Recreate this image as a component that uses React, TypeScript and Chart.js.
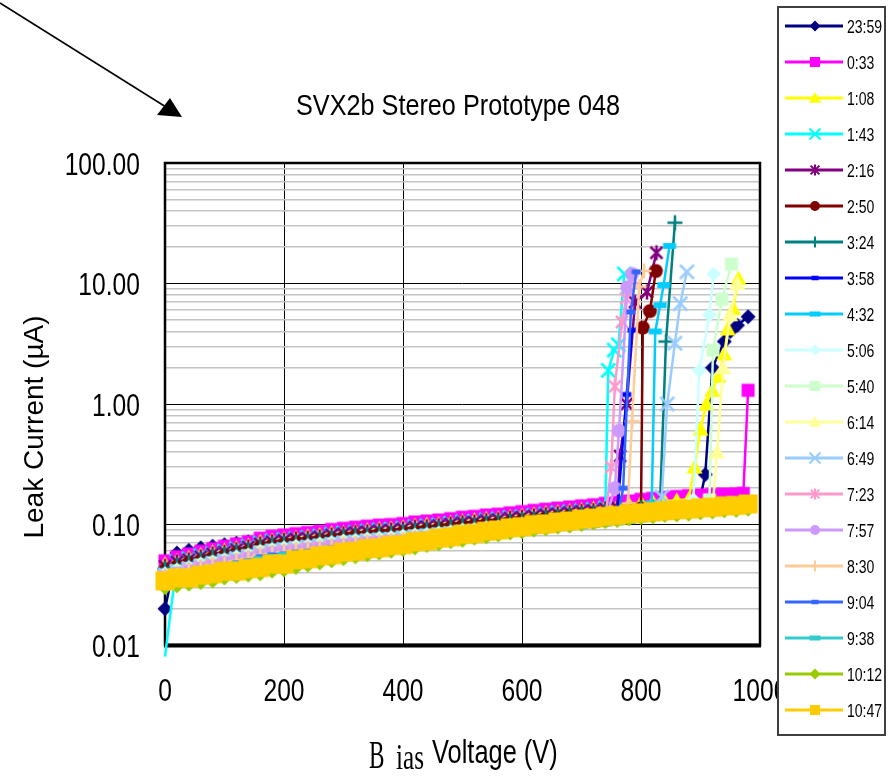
import React, { useEffect, useRef } from 'react';
import { Chart, registerables } from 'chart.js';

Chart.register(...registerables);

// ---------- data ----------
const gridVolts = [0, 20, 40, 60, 80, 100, 120, 140, 160, 180, 200, 220, 240, 260, 280, 300, 320, 340, 360, 380, 400, 420, 440, 460, 480, 500, 520, 540, 560, 580, 600, 620, 640, 660, 680, 700, 720, 740, 760, 780, 800, 820, 840, 860, 880, 900, 920, 940, 960, 980];

const seriesNames = ['23:59', '0:33', '1:08', '1:43', '2:16', '2:50', '3:24', '3:58', '4:32', '5:06', '5:40', '6:14', '6:49', '7:23', '7:57', '8:30', '9:04', '9:38', '10:12', '10:47'];

// currents (uA) on the 20 V grid, up to the breakdown
const cur2359 = [0.020, 0.058, 0.061, 0.064, 0.066, 0.068, 0.070, 0.072, 0.074, 0.076, 0.078, 0.080, 0.082, 0.085, 0.087, 0.089, 0.091, 0.093, 0.095, 0.097, 0.099, 0.101, 0.103, 0.105, 0.108, 0.110, 0.113, 0.115, 0.118, 0.121, 0.124, 0.127, 0.130, 0.133, 0.136, 0.139, 0.142, 0.145, 0.148, 0.152, 0.156, 0.159, 0.162, 0.165, 0.167, 0.170];
const cur0033 = [0.050, 0.054, 0.057, 0.060, 0.063, 0.066, 0.069, 0.072, 0.077, 0.080, 0.082, 0.084, 0.086, 0.088, 0.091, 0.093, 0.095, 0.097, 0.099, 0.100, 0.102, 0.105, 0.107, 0.109, 0.112, 0.115, 0.117, 0.120, 0.122, 0.125, 0.128, 0.131, 0.134, 0.137, 0.140, 0.143, 0.146, 0.150, 0.153, 0.157, 0.162, 0.165, 0.168, 0.171, 0.174, 0.176, 0.178, 0.179, 0.180];
const cur0108 = [0.047, 0.050, 0.053, 0.056, 0.059, 0.061, 0.064, 0.067, 0.072, 0.074, 0.076, 0.078, 0.080, 0.082, 0.085, 0.086, 0.088, 0.090, 0.092, 0.093, 0.095, 0.098, 0.100, 0.101, 0.104, 0.107, 0.109, 0.112, 0.113, 0.116, 0.119, 0.122, 0.125, 0.127, 0.130, 0.133, 0.136, 0.140, 0.142, 0.146, 0.151, 0.153, 0.156, 0.159, 0.162];
const cur0143 = [0.008, 0.049, 0.052, 0.055, 0.057, 0.060, 0.063, 0.066, 0.070, 0.073, 0.075, 0.076, 0.078, 0.080, 0.083, 0.085, 0.086, 0.088, 0.090, 0.091, 0.093, 0.096, 0.097, 0.099, 0.102, 0.105, 0.106, 0.109, 0.111, 0.114, 0.116, 0.119, 0.122, 0.125, 0.127, 0.130, 0.133, 0.137];
const cur0216 = [0.045, 0.049, 0.051, 0.054, 0.057, 0.059, 0.062, 0.065, 0.069, 0.072, 0.074, 0.076, 0.077, 0.079, 0.082, 0.084, 0.086, 0.087, 0.089, 0.090, 0.092, 0.095, 0.096, 0.098, 0.101, 0.104, 0.105, 0.108, 0.110, 0.113, 0.115, 0.118, 0.121, 0.123, 0.126, 0.129, 0.131, 0.135, 0.138];
const cur0250 = [0.042, 0.045, 0.048, 0.050, 0.053, 0.055, 0.058, 0.060, 0.065, 0.067, 0.069, 0.071, 0.072, 0.074, 0.076, 0.078, 0.080, 0.081, 0.083, 0.084, 0.086, 0.088, 0.090, 0.092, 0.094, 0.097, 0.098, 0.101, 0.102, 0.105, 0.108, 0.110, 0.113, 0.115, 0.118, 0.120, 0.123, 0.126, 0.129, 0.132, 0.136];
const cur0324 = [0.043, 0.046, 0.048, 0.051, 0.054, 0.056, 0.059, 0.061, 0.065, 0.068, 0.070, 0.071, 0.073, 0.075, 0.077, 0.079, 0.081, 0.082, 0.084, 0.085, 0.087, 0.089, 0.091, 0.093, 0.095, 0.098, 0.099, 0.102, 0.104, 0.106, 0.109, 0.111, 0.114, 0.116, 0.119, 0.122, 0.124, 0.128, 0.130, 0.133, 0.138, 0.140];
const cur0358 = [0.041, 0.044, 0.047, 0.049, 0.052, 0.054, 0.057, 0.059, 0.063, 0.066, 0.067, 0.069, 0.071, 0.072, 0.075, 0.076, 0.078, 0.080, 0.081, 0.082, 0.084, 0.086, 0.088, 0.089, 0.092, 0.094, 0.096, 0.098, 0.100, 0.103, 0.105, 0.107, 0.110, 0.112, 0.115, 0.117, 0.120, 0.123, 0.125];
const cur0432 = [0.040, 0.043, 0.046, 0.048, 0.050, 0.053, 0.055, 0.058, 0.062, 0.064, 0.066, 0.067, 0.069, 0.070, 0.073, 0.074, 0.076, 0.078, 0.079, 0.080, 0.082, 0.084, 0.086, 0.087, 0.090, 0.092, 0.094, 0.096, 0.098, 0.100, 0.102, 0.105, 0.107, 0.110, 0.112, 0.114, 0.117, 0.120, 0.122, 0.126, 0.130];
const cur0506 = [0.039, 0.042, 0.044, 0.047, 0.049, 0.051, 0.054, 0.056, 0.060, 0.062, 0.064, 0.066, 0.067, 0.069, 0.071, 0.073, 0.074, 0.076, 0.077, 0.078, 0.080, 0.082, 0.083, 0.085, 0.087, 0.090, 0.091, 0.094, 0.095, 0.098, 0.100, 0.102, 0.105, 0.107, 0.109, 0.112, 0.114, 0.117, 0.119, 0.122, 0.126, 0.129, 0.131, 0.133, 0.136];
const cur0540 = [0.038, 0.041, 0.043, 0.046, 0.048, 0.050, 0.052, 0.055, 0.059, 0.061, 0.062, 0.064, 0.065, 0.067, 0.069, 0.071, 0.072, 0.074, 0.075, 0.076, 0.078, 0.080, 0.081, 0.083, 0.085, 0.087, 0.089, 0.091, 0.093, 0.095, 0.097, 0.100, 0.102, 0.104, 0.106, 0.109, 0.111, 0.114, 0.116, 0.119, 0.123, 0.125, 0.128, 0.130, 0.132, 0.134];
const cur0614 = [0.037, 0.040, 0.042, 0.044, 0.047, 0.049, 0.051, 0.053, 0.057, 0.059, 0.061, 0.062, 0.064, 0.065, 0.067, 0.069, 0.070, 0.072, 0.073, 0.074, 0.075, 0.078, 0.079, 0.081, 0.083, 0.085, 0.087, 0.089, 0.090, 0.093, 0.095, 0.097, 0.099, 0.101, 0.104, 0.106, 0.108, 0.111, 0.113, 0.116, 0.120, 0.122, 0.124, 0.127, 0.129, 0.130, 0.132];
const cur0649 = [0.038, 0.041, 0.043, 0.045, 0.047, 0.050, 0.052, 0.054, 0.058, 0.060, 0.062, 0.063, 0.065, 0.066, 0.068, 0.070, 0.071, 0.073, 0.074, 0.075, 0.077, 0.079, 0.080, 0.082, 0.084, 0.086, 0.088, 0.090, 0.092, 0.094, 0.096, 0.098, 0.101, 0.103, 0.105, 0.107, 0.110, 0.113, 0.115, 0.118, 0.122, 0.124];
const cur0723 = [0.037, 0.039, 0.042, 0.044, 0.046, 0.048, 0.050, 0.053, 0.056, 0.058, 0.060, 0.061, 0.063, 0.064, 0.066, 0.068, 0.069, 0.071, 0.072, 0.073, 0.074, 0.077, 0.078, 0.080, 0.082, 0.084, 0.085, 0.088, 0.089, 0.091, 0.093, 0.096, 0.098, 0.100, 0.102, 0.104, 0.107, 0.110];
const cur0757 = [0.036, 0.039, 0.041, 0.043, 0.045, 0.048, 0.050, 0.052, 0.055, 0.058, 0.059, 0.060, 0.062, 0.063, 0.066, 0.067, 0.068, 0.070, 0.071, 0.072, 0.073, 0.076, 0.077, 0.078, 0.081, 0.083, 0.084, 0.086, 0.088, 0.090, 0.092, 0.094, 0.096, 0.099, 0.101, 0.103, 0.105, 0.108];
const cur0830 = [0.036, 0.038, 0.041, 0.043, 0.046, 0.047, 0.050, 0.052, 0.056, 0.057, 0.059, 0.061, 0.062, 0.064, 0.065, 0.067, 0.069, 0.070, 0.071, 0.072, 0.074, 0.075, 0.077, 0.079, 0.080, 0.082, 0.085, 0.086, 0.088, 0.091, 0.092, 0.095, 0.097, 0.098, 0.100, 0.103, 0.106, 0.108, 0.110];
const cur0904 = [0.035, 0.038, 0.040, 0.042, 0.044, 0.046, 0.048, 0.050, 0.054, 0.056, 0.057, 0.059, 0.060, 0.062, 0.064, 0.065, 0.067, 0.068, 0.069, 0.070, 0.071, 0.074, 0.075, 0.076, 0.078, 0.081, 0.082, 0.084, 0.085, 0.088, 0.090, 0.092, 0.094, 0.096, 0.098, 0.100, 0.102, 0.105, 0.107];
const cur0938 = [0.034, 0.037, 0.039, 0.041, 0.043, 0.045, 0.047, 0.049, 0.052, 0.054, 0.056, 0.057, 0.058, 0.060, 0.062, 0.063, 0.065, 0.066, 0.067, 0.068, 0.069, 0.071, 0.073, 0.074, 0.076, 0.078, 0.080, 0.082, 0.083, 0.085, 0.087, 0.089, 0.091, 0.093, 0.095, 0.097, 0.099, 0.102, 0.104, 0.107, 0.110, 0.113, 0.116, 0.119, 0.122, 0.126, 0.131, 0.136, 0.142, 0.150];
const cur1012 = [0.030, 0.031, 0.032, 0.033, 0.034, 0.036, 0.037, 0.038, 0.039, 0.041, 0.042, 0.044, 0.046, 0.048, 0.050, 0.052, 0.054, 0.056, 0.058, 0.060, 0.062, 0.064, 0.067, 0.069, 0.072, 0.074, 0.077, 0.079, 0.082, 0.085, 0.087, 0.090, 0.092, 0.095, 0.097, 0.100, 0.103, 0.106, 0.108, 0.111, 0.114, 0.116, 0.119, 0.120, 0.122, 0.125, 0.127, 0.130, 0.131, 0.134];
const cur1047 = [0.034, 0.036, 0.036, 0.038, 0.039, 0.041, 0.041, 0.043, 0.044, 0.047, 0.047, 0.051, 0.052, 0.055, 0.056, 0.059, 0.060, 0.063, 0.064, 0.067, 0.068, 0.072, 0.073, 0.077, 0.079, 0.083, 0.084, 0.088, 0.090, 0.094, 0.096, 0.100, 0.101, 0.105, 0.107, 0.111, 0.113, 0.117, 0.119, 0.123, 0.125, 0.128, 0.130, 0.133, 0.134, 0.138, 0.139, 0.143, 0.144, 0.148];

// breakdown points (V, uA)
const bdV2359 = [908, 920, 940, 950, 962, 980];
const bdI2359 = [0.26, 2.0, 3.3, 4.0, 4.5, 5.3];
const bdV0033 = [972, 980];
const bdI0033 = [0.181, 1.3];
const bdV0108 = [890, 900, 910, 920, 930, 940, 946, 955, 964];
const bdI0108 = [0.30, 0.62, 1.0, 1.3, 1.7, 2.6, 4.2, 6.2, 11];
const bdV0143 = [745, 755, 762, 772];
const bdI0143 = [1.9, 2.8, 3.1, 12];
const bdV0216 = [765, 776, 790, 810, 826];
const bdI0216 = [0.37, 1.0, 7.0, 8.5, 18];
const bdV0250 = [803, 815, 825];
const bdI0250 = [4.3, 5.9, 12.7];
const bdV0324 = [832, 842, 857];
const bdI0324 = [0.15, 3.3, 32];
const bdV0358 = [776, 785];
const bdI0358 = [1.2, 4.1];
const bdV0432 = [818, 824, 832, 838, 848];
const bdI0432 = [0.15, 4.0, 6.6, 9.7, 20.5];
const bdV0506 = [888, 898, 915, 922];
const bdI0506 = [0.16, 1.9, 5.5, 12];
const bdV0540 = [915, 921, 936, 952];
const bdI0540 = [0.16, 2.8, 7.4, 14.5];
const bdV0614 = [928, 938, 950, 962];
const bdI0614 = [0.4, 2.0, 5.5, 10];
const bdV0649 = [835, 844, 857, 866, 877];
const bdI0649 = [0.17, 1.0, 3.2, 6.8, 12.5];
const bdV0723 = [750, 756, 768, 775, 785];
const bdI0723 = [0.3, 1.4, 4.8, 7.5, 11];
const bdV0757 = [756, 763, 777, 785];
const bdI0757 = [0.2, 0.6, 9.3, 12];
const bdV0830 = [778, 785, 797, 805];
const bdI0830 = [0.15, 0.72, 9.4, 12.7];
const bdV0904 = [770, 783, 792];
const bdI0904 = [0.2, 5.8, 12.5];
const bdNone: number[] = [];

const baseCurrents = [cur2359, cur0033, cur0108, cur0143, cur0216, cur0250, cur0324, cur0358, cur0432, cur0506, cur0540, cur0614, cur0649, cur0723, cur0757, cur0830, cur0904, cur0938, cur1012, cur1047];
const breakdownVolts = [bdV2359, bdV0033, bdV0108, bdV0143, bdV0216, bdV0250, bdV0324, bdV0358, bdV0432, bdV0506, bdV0540, bdV0614, bdV0649, bdV0723, bdV0757, bdV0830, bdV0904, bdNone, bdNone, bdNone];
const breakdownCurrents = [bdI2359, bdI0033, bdI0108, bdI0143, bdI0216, bdI0250, bdI0324, bdI0358, bdI0432, bdI0506, bdI0540, bdI0614, bdI0649, bdI0723, bdI0757, bdI0830, bdI0904, bdNone, bdNone, bdNone];

// axes
const xTickValues = [0, 200, 400, 600, 800, 1000];
const xTickLabels = ['0', '200', '400', '600', '800', '1000'];
const yDecades = [0.01, 0.1, 1, 10, 100];
const yTickLabels = ['0.01', '0.10', '1.00', '10.00', '100.00'];
const yMinorSteps = [2, 3, 4, 5, 6, 7, 8, 9];

const chartTitle = 'SVX2b Stereo Prototype 048';
const yTitle = 'Leak Current (\u00b5A)';
const xTitleSerif = ['B', 'ias'];
const xTitleSans = 'Voltage (V)';

// ---------- styles ----------
const seriesColors = ['#000080', '#FF00FF', '#FFFF00', '#00FFFF', '#800080', '#800000', '#008080', '#0000FF', '#00CCFF', '#CCFFFF', '#CCFFCC', '#FFFF99', '#99CCFF', '#FF99CC', '#CC99FF', '#FFCC99', '#3366FF', '#33CCCC', '#99CC00', '#FFCC00'];
const seriesMarkers = ['diamond', 'square', 'triangle', 'x', 'star', 'circle', 'plus', 'dashS', 'dashL', 'diamond', 'square', 'triangle', 'x', 'star', 'circle', 'plus', 'dashS', 'dashL', 'diamond', 'square'];
const plotMarkerHalf = [7.5, 6.5, 8, 7, 7.5, 7, 7.5, 4.5, 6.5, 7.5, 6.5, 8, 7, 7.5, 7, 7.5, 4.5, 6.5, 7.5, 9.5];
const legendMarkerHalf: Record<string, number> = { diamond: 5.5, square: 5, triangle: 6, x: 5.5, star: 5.5, circle: 5, plus: 5.5, dashS: 3.5, dashL: 5.5 };

const SANS = "'Liberation Sans', Arial, Helvetica, sans-serif";
const SERIF = "'Liberation Serif', 'Times New Roman', serif";

function paintMarker(ctx: any, kind: string, cx: number, cy: number, r: number, color: string, lw: number) {
  ctx.save();
  ctx.fillStyle = color;
  ctx.strokeStyle = color;
  ctx.lineWidth = lw;
  ctx.lineCap = 'butt';
  ctx.beginPath();
  switch (kind) {
    case 'diamond':
      ctx.moveTo(cx, cy - r); ctx.lineTo(cx + r, cy); ctx.lineTo(cx, cy + r); ctx.lineTo(cx - r, cy); ctx.closePath(); ctx.fill();
      break;
    case 'square':
      ctx.rect(cx - r, cy - r, 2 * r, 2 * r); ctx.fill();
      break;
    case 'triangle':
      ctx.moveTo(cx, cy - r); ctx.lineTo(cx + r, cy + r * 0.8); ctx.lineTo(cx - r, cy + r * 0.8); ctx.closePath(); ctx.fill();
      break;
    case 'x':
      ctx.moveTo(cx - r, cy - r); ctx.lineTo(cx + r, cy + r); ctx.moveTo(cx + r, cy - r); ctx.lineTo(cx - r, cy + r); ctx.stroke();
      break;
    case 'star': {
      const d = r * 0.8;
      ctx.moveTo(cx, cy - r); ctx.lineTo(cx, cy + r);
      ctx.moveTo(cx - d, cy - d); ctx.lineTo(cx + d, cy + d);
      ctx.moveTo(cx + d, cy - d); ctx.lineTo(cx - d, cy + d);
      ctx.stroke();
      break;
    }
    case 'circle':
      ctx.arc(cx, cy, r, 0, Math.PI * 2); ctx.fill();
      break;
    case 'plus':
      ctx.moveTo(cx - r, cy); ctx.lineTo(cx + r, cy); ctx.moveTo(cx, cy - r); ctx.lineTo(cx, cy + r); ctx.stroke();
      break;
    case 'dashS': {
      const h = Math.max(4.5, r * 1.1);
      ctx.fillRect(cx - r, cy - h / 2, 2 * r, h);
      break;
    }
    case 'dashL': {
      const h = Math.max(5, r * 0.9);
      ctx.fillRect(cx - r, cy - h / 2, 2 * r, h);
      break;
    }
    default:
      break;
  }
  ctx.restore();
}

function makeMarkerCanvas(kind: string, r: number, color: string, lw: number) {
  const size = Math.ceil(2 * (r + lw + 1));
  const c = document.createElement('canvas');
  c.width = size;
  c.height = size;
  const g = c.getContext('2d');
  paintMarker(g, kind, size / 2, size / 2, r, color, lw);
  return c;
}

function drawText(ctx: any, text: string, x: number, y: number, font: string, sx: number, align: string) {
  ctx.save();
  ctx.font = font;
  ctx.fillStyle = '#000';
  ctx.textAlign = align;
  ctx.textBaseline = 'alphabetic';
  ctx.translate(x, y);
  ctx.scale(sx, 1);
  ctx.fillText(text, 0, 0);
  ctx.restore();
}

const decorPlugin = {
  id: 'decor',
  beforeDatasetsDraw(chart: any) {
    const { ctx, chartArea: a } = chart;
    ctx.save();
    ctx.strokeStyle = '#000';
    ctx.lineWidth = 2.5;
    ctx.strokeRect(a.left, a.top, a.right - a.left, a.bottom - a.top);
    ctx.lineWidth = 4;
    ctx.beginPath();
    ctx.moveTo(a.left - 1, a.bottom + 0.5);
    ctx.lineTo(a.right + 1, a.bottom + 0.5);
    ctx.stroke();
    ctx.restore();
  },
  afterDraw(chart: any) {
    const { ctx } = chart;
    const xs = chart.scales.x;
    const ys = chart.scales.y;

    // arrow
    ctx.save();
    ctx.strokeStyle = '#000';
    ctx.fillStyle = '#000';
    ctx.lineWidth = 1.5;
    ctx.beginPath();
    ctx.moveTo(0, 3);
    ctx.lineTo(166, 107);
    ctx.stroke();
    ctx.beginPath();
    ctx.moveTo(182, 117);
    ctx.lineTo(157, 115);
    ctx.lineTo(170, 98);
    ctx.closePath();
    ctx.fill();
    ctx.restore();

    // title
    drawText(ctx, chartTitle, 458, 115, `29px ${SANS}`, 0.87, 'center');

    // y tick labels
    yDecades.forEach((v, i) => {
      const py = ys.getPixelForValue(v);
      drawText(ctx, yTickLabels[i], 140, py + 11.5, `32px ${SANS}`, 0.77, 'right');
    });
    // x tick labels
    xTickValues.forEach((v, i) => {
      const px = xs.getPixelForValue(v);
      drawText(ctx, xTickLabels[i], px, 701, `32px ${SANS}`, 0.77, 'center');
    });

    // y title
    ctx.save();
    ctx.translate(33, 427);
    ctx.rotate(-Math.PI / 2);
    ctx.font = `28px ${SANS}`;
    ctx.fillStyle = '#000';
    ctx.textAlign = 'center';
    ctx.textBaseline = 'alphabetic';
    ctx.fillText(yTitle, 0, 10);
    ctx.restore();

    // x title
    drawText(ctx, xTitleSerif[0], 369, 768, `40px ${SERIF}`, 0.58, 'left');
    drawText(ctx, xTitleSerif[1], 396, 769, `36px ${SERIF}`, 0.7, 'left');
    drawText(ctx, xTitleSans, 432, 763, `33px ${SANS}`, 0.77, 'left');

    // legend
    const lx = 778, ly = 7, lw = 107, lh = 728;
    ctx.save();
    ctx.fillStyle = '#fff';
    ctx.fillRect(lx, ly, lw, lh);
    ctx.strokeStyle = '#404040';
    ctx.lineWidth = 2;
    ctx.strokeRect(lx, ly, lw, lh);
    ctx.restore();
    seriesNames.forEach((name, i) => {
      const y = 26 + 36 * i;
      ctx.save();
      ctx.strokeStyle = seriesColors[i];
      ctx.lineWidth = 3;
      ctx.beginPath();
      ctx.moveTo(785, y);
      ctx.lineTo(843, y);
      ctx.stroke();
      ctx.restore();
      const kind = seriesMarkers[i];
      paintMarker(ctx, kind, 815, y, legendMarkerHalf[kind], seriesColors[i], 2);
      drawText(ctx, name, 847, y + 6.5, `18px ${SANS}`, 0.78, 'left');
    });
  },
};

export default function App() {
  const ref = useRef<HTMLCanvasElement | null>(null);

  useEffect(() => {
    document.body.style.margin = '0';
    const canvas = ref.current;
    if (!canvas) return;

    const datasets = seriesNames
      .map((name, i) => {
        const pts = baseCurrents[i].map((c, k) => ({ x: gridVolts[k], y: c }));
        breakdownVolts[i].forEach((v, k) => pts.push({ x: v, y: breakdownCurrents[i][k] }));
        const kind = seriesMarkers[i];
        const r = plotMarkerHalf[i];
        const img = makeMarkerCanvas(kind, r, seriesColors[i], 2.5);
        return {
          label: name,
          data: pts,
          borderColor: seriesColors[i],
          backgroundColor: seriesColors[i],
          borderWidth: 2.5,
          pointStyle: img,
          pointRadius: r,
          pointHoverRadius: r,
          pointBorderWidth: 0,
          tension: 0,
          fill: false,
          clip: false,
        };
      })
      .reverse();

    const yGridValues: number[] = [];
    yDecades.forEach((d) => {
      yGridValues.push(d);
      if (d < 100) yMinorSteps.forEach((m) => yGridValues.push(+(d * m).toPrecision(3)));
    });

    const chart = new Chart(canvas, {
      type: 'line',
      data: { datasets },
      plugins: [decorPlugin],
      options: {
        responsive: false,
        animation: false,
        devicePixelRatio: 1,
        events: [],
        layout: { padding: { left: 165, right: 130, top: 163, bottom: 135 } },
        plugins: {
          legend: { display: false },
          title: { display: false },
          tooltip: { enabled: false },
        },
        scales: {
          x: {
            type: 'linear',
            min: 0,
            max: 1000,
            afterFit: (s: any) => { s.height = 0; },
            afterBuildTicks: (s: any) => { s.ticks = xTickValues.map((v) => ({ value: v })); },
            ticks: { display: false },
            grid: { color: '#000', lineWidth: 1, drawTicks: false },
            border: { display: false },
          },
          y: {
            type: 'logarithmic',
            min: 0.01,
            max: 100,
            afterFit: (s: any) => { s.width = 0; },
            afterBuildTicks: (s: any) => { s.ticks = yGridValues.map((v) => ({ value: v })); },
            ticks: { display: false },
            grid: {
              color: (c: any) => (c.tick && yDecades.some((d) => Math.abs(d - c.tick.value) < d * 1e-6) ? '#000' : '#c4c4c4'),
              lineWidth: (c: any) => (c.tick && yDecades.some((d) => Math.abs(d - c.tick.value) < d * 1e-6) ? 1 : 1.5),
              drawTicks: false,
            },
            border: { display: false },
          },
        },
      } as any,
    });

    return () => chart.destroy();
  }, []);

  return <canvas ref={ref} width={890} height={780} style={{ display: 'block' }} />;
}
